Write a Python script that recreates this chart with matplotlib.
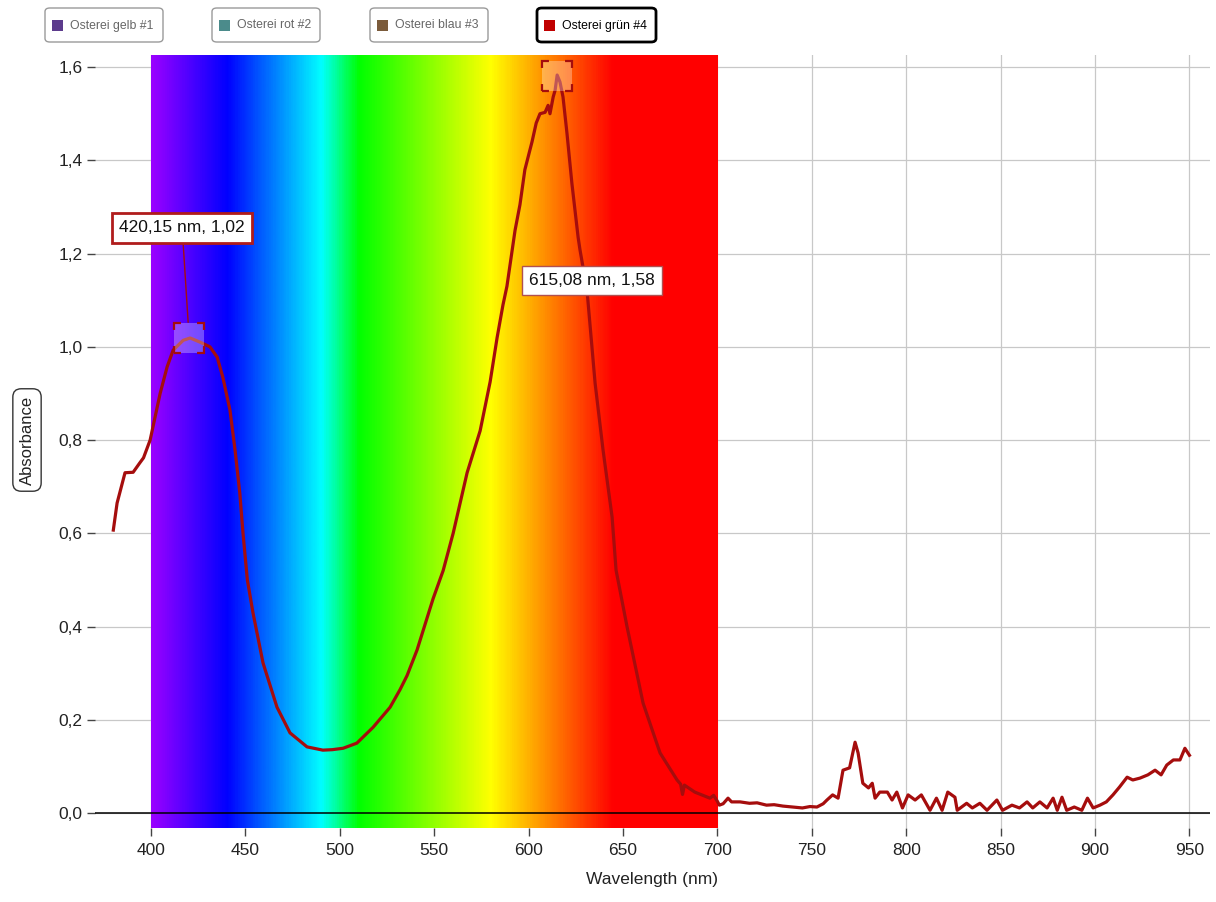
import numpy as np
import matplotlib
matplotlib.use('Agg')
import matplotlib.pyplot as plt
from matplotlib.colors import LinearSegmentedColormap
from matplotlib.patches import Rectangle, FancyBboxPatch
from matplotlib.ticker import FuncFormatter
from matplotlib.transforms import ScaledTranslation
from matplotlib import font_manager

# Messdaten: Osterei grün #4
wavelength = [380.0, 382.0, 386.2, 390.5, 394.0, 396.0, 399.5, 404.8, 408.5, 411.7,
              417.0, 420.7, 426.0, 431.2, 435.0, 438.0, 441.8, 444.5, 447.0, 448.7,
              451.0, 454.0, 459.3, 466.7, 473.6, 482.6, 491.0, 496.0, 501.7, 509.0,
              517.6, 526.6, 531.9, 535.6, 540.9, 544.0, 549.4, 554.7, 560.0, 567.4,
              574.3, 579.6, 583.3, 586.4, 588.5, 592.8, 595.4, 598.0, 601.8, 604.0,
              606.0, 608.7, 610.3, 611.3, 613.0, 614.0, 615.1, 616.6, 618.2, 620.3,
              622.9, 626.2, 627.2, 630.9, 635.2, 639.4, 644.2, 646.3, 652.1, 660.6,
              669.6, 678.6, 680.5, 681.5, 682.5, 688.0, 696.0, 698.0, 700.0, 701.0,
              703.0, 705.6, 707.5, 712.0, 717.0, 721.0, 726.0, 730.0, 734.7, 740.0,
              745.0, 749.0, 752.7, 756.0, 758.0, 761.0, 763.9, 766.5, 770.0, 772.9,
              774.5, 777.0, 780.0, 782.0, 783.5, 786.0, 790.0, 792.5, 795.0, 798.0,
              801.0, 804.7, 808.0, 812.6, 816.0, 819.0, 822.0, 825.8, 827.0, 832.0,
              835.0, 839.0, 842.8, 848.0, 851.0, 856.0, 860.0, 864.0, 867.0, 870.8,
              874.6, 877.8, 880.0, 882.5, 885.0, 889.0, 893.0, 896.0, 899.0, 902.6,
              906.0, 909.5, 913.0, 917.0, 920.0, 923.8, 928.0, 931.8, 935.0, 938.0,
              941.5, 945.0, 947.6, 950.0]
absorbance = [0.607, 0.665, 0.730, 0.731, 0.751, 0.762, 0.800, 0.900, 0.957, 0.993,
              1.014, 1.019, 1.010, 1.000, 0.978, 0.935, 0.864, 0.778, 0.686, 0.600,
              0.500, 0.429, 0.322, 0.227, 0.172, 0.142, 0.135, 0.136, 0.139, 0.150,
              0.184, 0.227, 0.265, 0.295, 0.350, 0.390, 0.460, 0.520, 0.600, 0.730,
              0.820, 0.925, 1.020, 1.090, 1.130, 1.250, 1.305, 1.380, 1.440, 1.480,
              1.500, 1.503, 1.518, 1.500, 1.536, 1.550, 1.583, 1.568, 1.536, 1.458,
              1.351, 1.235, 1.208, 1.122, 0.922, 0.779, 0.635, 0.521, 0.400, 0.236,
              0.129, 0.071, 0.062, 0.040, 0.060, 0.045, 0.032, 0.038, 0.025, 0.017,
              0.020, 0.032, 0.024, 0.024, 0.021, 0.022, 0.017, 0.018, 0.015, 0.013,
              0.011, 0.014, 0.013, 0.020, 0.028, 0.039, 0.032, 0.092, 0.097, 0.152,
              0.129, 0.064, 0.054, 0.064, 0.032, 0.045, 0.045, 0.028, 0.045, 0.011,
              0.039, 0.028, 0.039, 0.006, 0.032, 0.006, 0.045, 0.034, 0.006, 0.021,
              0.011, 0.021, 0.006, 0.028, 0.006, 0.017, 0.011, 0.024, 0.011, 0.024,
              0.011, 0.032, 0.006, 0.034, 0.006, 0.013, 0.006, 0.032, 0.011, 0.017,
              0.024, 0.039, 0.056, 0.077, 0.071, 0.075, 0.082, 0.092, 0.082, 0.103,
              0.114, 0.114, 0.139, 0.124]

# markierte Maxima
peak_wl = [420.15, 615.08]
peak_abs = [1.02, 1.58]

# Legende
series_names = ['Osterei gelb #1', 'Osterei rot #2', 'Osterei blau #3', 'Osterei grün #4']
series_colors = ['#5c3b8c', '#4b8b8b', '#7b5b3b', '#c00000']

# Farbverlauf des sichtbaren Spektrums
spec_stops = [400, 440, 490, 510, 580, 645, 700]
spec_colors = ['#9900ff', '#0000ff', '#00ffff', '#00ff00', '#ffff00', '#ff0000', '#ff0000']

W, H = 1216, 902
line_color = '#a50d0d'

names = {f.name for f in font_manager.fontManager.ttflist}
base_font = 'Liberation Sans' if 'Liberation Sans' in names else 'DejaVu Sans'
narrow_font = 'Liberation Sans Narrow' if 'Liberation Sans Narrow' in names else base_font
plt.rcParams['font.family'] = [base_font, 'DejaVu Sans']
plt.rcParams['lines.scale_dashes'] = False

fig = plt.figure(figsize=(W / 100, H / 100), dpi=100)
ax = fig.add_axes([95 / W, 1 - 828 / H, 1115 / W, 773 / H])

ylo, yhi = -0.032, 1.626
ax.set_xlim(370.3, 960.9)
ax.set_ylim(ylo, yhi)

# Spektrum-Hintergrund
pos = [(s - spec_stops[0]) / (spec_stops[-1] - spec_stops[0]) for s in spec_stops]
cmap = LinearSegmentedColormap.from_list('spec', list(zip(pos, spec_colors)))
grad = np.linspace(0, 1, 600).reshape(1, -1)
ax.imshow(grad, cmap=cmap, extent=[spec_stops[0], spec_stops[-1], ylo, yhi],
          aspect='auto', zorder=1, interpolation='bilinear')

ax.set_axisbelow(True)
ax.grid(True, color='#c8c8c8', lw=0.9)
ax.axhline(0, color='black', lw=1.1, zorder=2)

ax.plot(wavelength, absorbance, color=line_color, lw=2.3, zorder=3, solid_joinstyle='round')

# Achsen
for s in ax.spines.values():
    s.set_visible(False)
ax.set_xticks(np.arange(400, 951, 50))
ax.set_yticks(np.arange(0, 1.61, 0.2))
ax.yaxis.set_major_formatter(FuncFormatter(lambda v, p: f'{v:.1f}'.replace('.', ',')))
ax.tick_params(axis='both', direction='out', length=6, width=1, color='#444444',
               labelsize=12.5, labelcolor='#222222')
ax.tick_params(axis='y', pad=3)
ax.tick_params(axis='x', pad=5)
ax.set_xlabel('Wavelength (nm)', fontsize=12.5, color='#222222', labelpad=10)

fig.text(27 / W, 1 - 440 / H, 'Absorbance', rotation=90, ha='center', va='center',
         fontsize=12, color='#222222',
         bbox=dict(boxstyle='round,pad=0.4,rounding_size=0.5', fc='white', ec='#333333', lw=1))

# Markierungen der Maxima
for i, (px_, py_) in enumerate(zip(peak_wl, peak_abs)):
    tr = fig.dpi_scale_trans + ScaledTranslation(px_, py_, ax.transData)
    ax.add_patch(Rectangle((-0.15, -0.15), 0.30, 0.30, transform=tr, fc=(1, 1, 1, 0.3),
                           ec=line_color, lw=1.6, linestyle=(5.0, (10.0, 11.6)), zorder=4))
    label = f'{px_:.2f} nm, {py_:.2f}'.replace('.', ',')
    if i == 0:
        ax.annotate(label, xy=(px_, py_), xytext=(-5, 79), textcoords='offset points',
                    ha='center', va='center', fontsize=12.5, color='#111111', zorder=5,
                    bbox=dict(boxstyle='square,pad=0.42', fc='white', ec='#b01c1c', lw=2),
                    arrowprops=dict(arrowstyle='-', color=line_color, lw=1,
                                    shrinkA=0, shrinkB=11))
    else:
        ax.annotate(label, xy=(px_, py_), xytext=(25, -147), textcoords='offset points',
                    ha='center', va='center', fontsize=12.5, color='#111111', zorder=5,
                    bbox=dict(boxstyle='square,pad=0.42', fc='white', ec='#b05050', lw=1))

# Legende oben
legend_x = [(45, 163), (212, 320), (370, 488), (537, 656)]
for k, (name, col) in enumerate(zip(series_names, series_colors)):
    x0, x1 = legend_x[k]
    active = k == len(series_names) - 1
    fig.patches.append(FancyBboxPatch((x0 / W, 1 - 42 / H), (x1 - x0) / W, 34 / H,
                                      boxstyle='round,pad=0,rounding_size=0.004',
                                      transform=fig.transFigure, fc='white',
                                      ec='black' if active else '#9a9a9a',
                                      lw=2 if active else 1))
    fig.patches.append(Rectangle(((x0 + 7) / W, 1 - 31 / H), 11 / W, 11 / H,
                                 transform=fig.transFigure, fc=col, ec='none'))
    fig.text((x0 + 25) / W, 1 - 25.5 / H, name, ha='left', va='center', fontsize=8.8,
             family=[narrow_font, 'DejaVu Sans'],
             color='black' if active else '#666666')

fig.savefig('out.png', dpi=100)
